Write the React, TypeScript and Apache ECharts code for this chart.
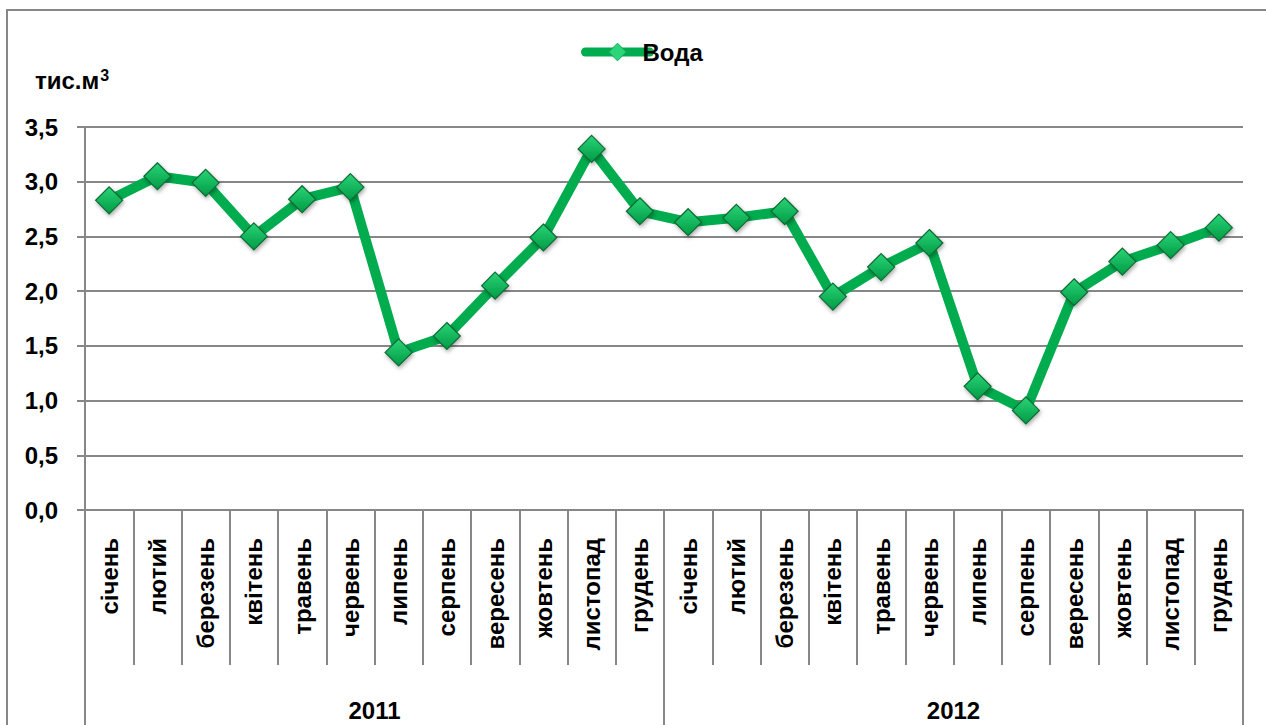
import React, { useEffect, useRef } from "react";
import * as echarts from "echarts";

const months = ["січень", "лютий", "березень", "квітень", "травень", "червень", "липень", "серпень", "вересень", "жовтень", "листопад", "грудень"];
const years = ["2011", "2012"];
const categories = [...months, ...months];
const seriesName = "Вода";
const values = [2.83, 3.05, 2.99, 2.5, 2.84, 2.95, 1.44, 1.59, 2.05, 2.49, 3.3, 2.73, 2.63, 2.67, 2.73, 1.95, 2.22, 2.44, 1.13, 0.91, 1.99, 2.27, 2.42, 2.58];
const yMin = 0;
const yMax = 3.5;
const yStep = 0.5;

const FONT = "'Liberation Sans', Arial, sans-serif";
const GRAY = "#878787";
const GREEN = "#00AC4E";

export default function App() {
  const ref = useRef<HTMLDivElement>(null);
  useEffect(() => {
    if (!ref.current) return;
    const chart = echarts.init(ref.current, null, { renderer: "svg" });
    const markerFill = new echarts.graphic.LinearGradient(0, 0, 0, 1, [
      { offset: 0, color: "#2ad476" },
      { offset: 1, color: "#009a44" },
    ]);
    chart.setOption({
      animation: false,
      backgroundColor: "#fff",
      title: {
        text: "{a|тис.м}{b|3}",
        left: 30,
        top: 62,
        textStyle: {
          rich: {
            a: { fontFamily: FONT, fontSize: 24, fontWeight: "bold", color: "#000" },
            b: { fontFamily: FONT, fontSize: 16, color: "#000", verticalAlign: "top", padding: [0, 0, 10, 1] },
          },
        },
      },
      legend: {
        left: 576,
        top: 35,
        itemWidth: 64,
        itemHeight: 22,
        textStyle: { fontFamily: FONT, fontSize: 24, fontWeight: "bold", color: "#000", padding: [0, 0, 0, -12] },
        lineStyle: { width: 9, color: GREEN, cap: "round" },
        itemStyle: { color: "#2bd67a", borderColor: "#13a455", borderWidth: 1 },
        data: [seriesName],
      },
      grid: { left: 85, right: 23, top: 127, bottom: 215, containLabel: false },
      graphic: [
        {
          type: "rect",
          shape: { x: 7, y: 10, width: 1300, height: 800 },
          style: { fill: "none", stroke: GRAY, lineWidth: 2 },
          silent: true,
        },
      ],
      xAxis: [
        {
          type: "category",
          data: categories,
          boundaryGap: true,
          axisLine: { show: true, lineStyle: { color: GRAY, width: 2 } },
          axisTick: { show: true, interval: 0, length: 155, lineStyle: { color: GRAY, width: 2 } },
          axisLabel: {
            interval: 0,
            rotate: 90,
            margin: 28,
            fontFamily: FONT,
            fontSize: 24,
            fontWeight: "bold",
            color: "#000",
          },
        },
        {
          type: "category",
          data: years,
          position: "bottom",
          offset: 0,
          boundaryGap: true,
          axisLine: { show: false },
          axisTick: { show: true, interval: 0, length: 220, lineStyle: { color: GRAY, width: 2 } },
          axisLabel: {
            interval: 0,
            margin: 188,
            fontFamily: FONT,
            fontSize: 24,
            fontWeight: "bold",
            color: "#000",
          },
        },
      ],
      yAxis: {
        type: "value",
        min: yMin,
        max: yMax,
        interval: yStep,
        axisLine: { show: true, lineStyle: { color: GRAY, width: 2 } },
        axisTick: { show: true, length: 8, lineStyle: { color: GRAY, width: 2 } },
        splitLine: { show: true, lineStyle: { color: GRAY, width: 2 } },
        axisLabel: {
          margin: 27,
          fontFamily: FONT,
          fontSize: 24,
          fontWeight: "bold",
          color: "#000",
          formatter: (v: number) => v.toFixed(1).replace(".", ","),
        },
      },
      series: [
        {
          name: seriesName,
          type: "line",
          data: values,
          xAxisIndex: 0,
          symbol: "diamond",
          symbolSize: 27,
          lineStyle: { color: GREEN, width: 10 },
          itemStyle: {
            color: markerFill,
            borderColor: "#0d6a35",
            borderWidth: 1.2,
            shadowColor: "rgba(0,0,0,0.35)",
            shadowBlur: 4,
            shadowOffsetX: 1,
            shadowOffsetY: 2,
          },
          z: 5,
        },
      ],
    });
    return () => chart.dispose();
  }, []);
  return <div ref={ref} style={{ position: "fixed", left: 0, top: 0, width: 1266, height: 725 }} />;
}
